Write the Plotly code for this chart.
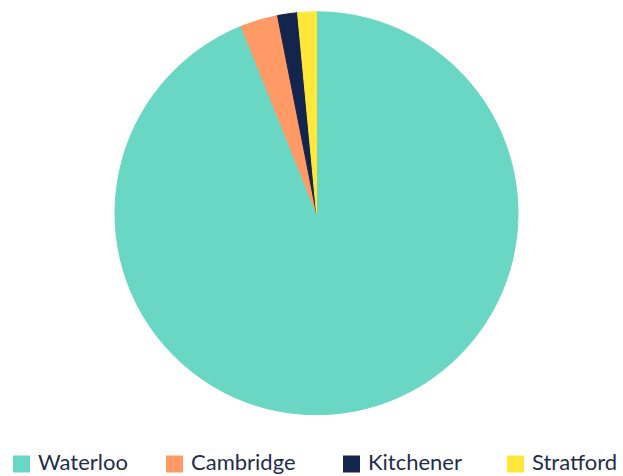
import plotly.graph_objects as go

# Share of total by city
cities = ["Waterloo", "Cambridge", "Kitchener", "Stratford"]
shares = [93.9, 3.0, 1.6, 1.5]
colors = ["#6AD7C4", "#FF9966", "#13244D", "#FFE83A"]

W, H = 623, 476

fig = go.Figure(
    go.Pie(
        labels=cities,
        values=shares,
        sort=False,
        direction="clockwise",
        rotation=0,
        textinfo="none",
        hoverinfo="label+percent",
        marker=dict(colors=colors, line=dict(color=colors, width=1)),
        domain=dict(x=[115 / W, 518 / W], y=[1 - 415 / H, 1 - 11.5 / H]),
        showlegend=False,
    )
)

# Legend row along the bottom: swatch left edges in pixels
swatch_left = [13, 166, 343, 507]
swatch_size = 17
swatch_top = 455.5
label_gap = 24

for name, col, x0 in zip(cities, colors, swatch_left):
    fig.add_shape(
        type="rect",
        xref="paper", yref="paper",
        x0=x0 / W, x1=(x0 + swatch_size) / W,
        y0=1 - (swatch_top + swatch_size) / H, y1=1 - swatch_top / H,
        fillcolor=col, line=dict(width=0),
    )
    fig.add_annotation(
        xref="paper", yref="paper",
        x=(x0 + label_gap) / W, y=0,
        xanchor="left", yanchor="bottom",
        borderpad=0,
        text=name, showarrow=False,
        font=dict(family="Lato", size=22, color="#1F2D4D"),
    )

fig.update_layout(
    width=W,
    height=H,
    margin=dict(l=0, r=0, t=0, b=0),
    paper_bgcolor="white",
    plot_bgcolor="white",
    showlegend=False,
)

fig.write_html("out.html")
